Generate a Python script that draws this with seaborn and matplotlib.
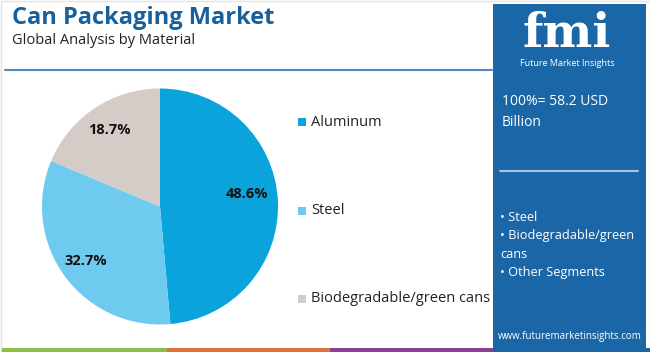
"""Can Packaging Market: доли по материалу (круговая диаграмма)."""

import matplotlib
matplotlib.use("Agg")
import matplotlib.pyplot as plt
from matplotlib.patches import Rectangle
import numpy as np
import seaborn as sns

# Данные
MATERIALS = ["Aluminum", "Steel", "Biodegradable/green cans"]
SHARES = [48.6, 32.7, 18.7]
TOTAL_LABEL = "100%= 58.2 USD\nBillion"
OTHER_SEGMENTS = ["• Steel", "• Biodegradable/green\ncans", "• Other Segments"]

TITLE = "Can Packaging Market"
SUBTITLE = "Global Analysis by Material"
URL = "www.futuremarketinsights.com"

PALETTE = sns.color_palette(["#0aa3db", "#6ecbef", "#d5cbc7"])
PANEL = "#1b66a7"
TITLE_COLOR = "#17609c"
STRIPES = ["#8cc04b", "#e0703a", "#8b3f96", PANEL]

W, H = 650, 352

sns.set_theme(style="white")
plt.rcParams["font.family"] = ["Open Sans", "DejaVu Sans"]

fig = plt.figure(figsize=(W / 100, H / 100), dpi=100)
fig.patch.set_facecolor("white")

# Фоновая ось в пиксельных координатах
bg = fig.add_axes([0, 0, 1, 1])
bg.set_xlim(0, W)
bg.set_ylim(H, 0)
bg.axis("off")

bg.add_patch(Rectangle((0.5, 0.5), W - 1, H - 1, fill=False, ec="#e4e4e4", lw=1))

bg.text(12, 18, TITLE, fontsize=17, fontweight="bold", color=TITLE_COLOR,
        va="center", ha="left")
bg.text(12, 40, SUBTITLE, fontsize=10.5, color="#222222", va="center", ha="left")
bg.plot([5, 492], [70, 70], color="#4f88bf", lw=1.5)

# Цветные полосы внизу
edges = [2, 167, 330, 494, 650]
for i, c in enumerate(STRIPES):
    bg.add_patch(Rectangle((edges[i], 347.5), edges[i + 1] - edges[i], 4.5,
                           color=c, lw=0))

# Правая панель
bg.add_patch(Rectangle((493, 4), 153, 348, color=PANEL, lw=0))
bg.text(567, 47, "fmi", fontsize=34, fontweight="bold", color="white",
        family=["DejaVu Serif"], ha="center", va="baseline")
for yy in np.arange(14, 48, 3.2):
    bg.plot([512, 624], [yy, yy], color=PANEL, lw=0.6)
bg.text(567, 64, "Future Market Insights", fontsize=6.5, color="white",
        ha="center", va="center")
bg.text(502, 112, TOTAL_LABEL, fontsize=10, color="white", ha="left",
        va="center", linespacing=1.5)
bg.plot([500, 638], [171, 171], color="#a9c3de", lw=1.5)
bg.text(500, 245, "\n".join(OTHER_SEGMENTS), fontsize=9.2, color="white",
        ha="left", va="center", linespacing=1.55)
bg.text(570, 337, URL, fontsize=7, color="white", ha="center", va="center")

# Легенда
leg_y = [122, 211, 299]
for name, col, yy in zip(MATERIALS, PALETTE, leg_y):
    bg.add_patch(Rectangle((298, yy - 4), 8, 8, color=col, lw=0))
    bg.text(311, yy, name, fontsize=10.5, color="#222222", ha="left", va="center")

# Круговая диаграмма
cx, cy, r = 160, 206.5, 118
ax = fig.add_axes([(cx - r) / W, (H - cy - r) / H, 2 * r / W, 2 * r / H])
wedges, _, autotexts = ax.pie(
    SHARES, colors=PALETTE, startangle=90, counterclock=False,
    autopct=lambda p: f"{p:.1f}%", pctdistance=0.78,
    textprops={"fontsize": 10.5, "fontweight": "bold", "color": "#111111"},
    wedgeprops={"linewidth": 0})
# Метку алюминия ставим чуть ближе к центру и выше
x0, y0 = autotexts[0].get_position()
autotexts[0].set_position((x0 * 0.946, y0 + 0.072))
ax.set_xlim(-1, 1)
ax.set_ylim(-1, 1)
ax.set_aspect("equal")
ax.axis("off")

fig.savefig("out.png", dpi=100)
